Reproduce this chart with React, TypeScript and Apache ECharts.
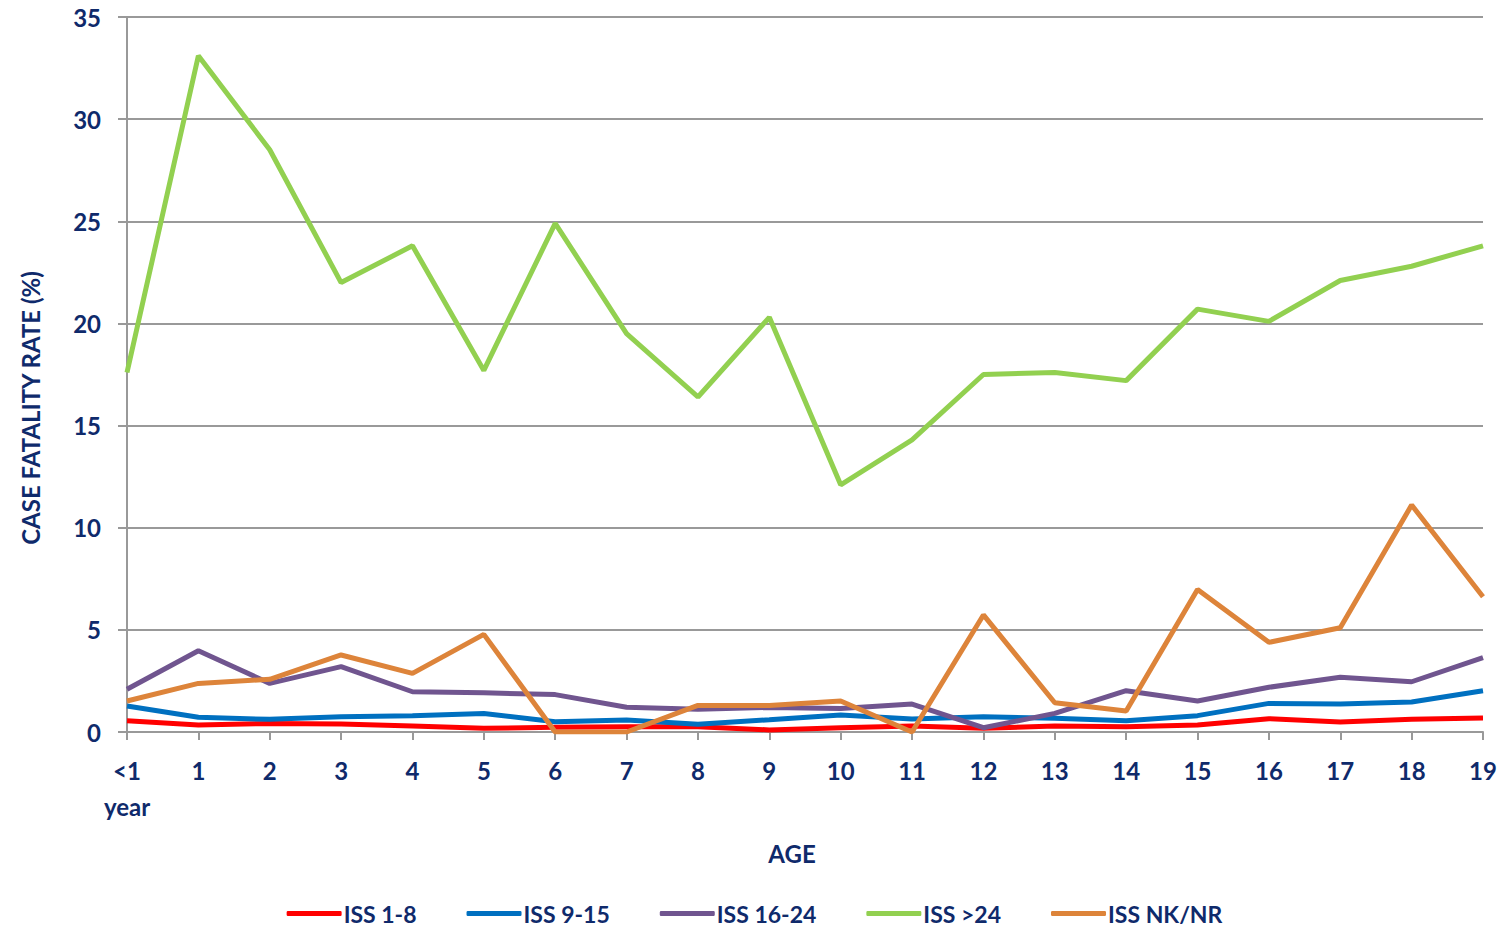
import React, { useEffect, useRef } from "react";
import * as echarts from "echarts";

const categories = ["<1\nyear", "1", "2", "3", "4", "5", "6", "7", "8", "9", "10", "11", "12", "13", "14", "15", "16", "17", "18", "19"];
const iss1to8 = [0.55, 0.34, 0.42, 0.39, 0.29, 0.18, 0.23, 0.26, 0.26, 0.1, 0.21, 0.29, 0.18, 0.29, 0.26, 0.34, 0.65, 0.49, 0.62, 0.69];
const iss9to15 = [1.27, 0.72, 0.62, 0.75, 0.8, 0.91, 0.5, 0.59, 0.38, 0.6, 0.83, 0.64, 0.75, 0.67, 0.55, 0.8, 1.4, 1.37, 1.47, 2.02];
const iss16to24 = [2.09, 3.98, 2.38, 3.2, 1.97, 1.92, 1.83, 1.21, 1.11, 1.2, 1.15, 1.37, 0.21, 0.91, 2.02, 1.52, 2.19, 2.68, 2.46, 3.64];
const issOver24 = [17.6, 33.1, 28.5, 22.0, 23.8, 17.7, 24.9, 19.5, 16.4, 20.3, 12.1, 14.3, 17.5, 17.6, 17.2, 20.7, 20.1, 22.1, 22.8, 23.8];
const issNKNR = [1.52, 2.38, 2.58, 3.77, 2.87, 4.78, 0, 0, 1.3, 1.3, 1.52, 0, 5.73, 1.43, 1.03, 6.98, 4.39, 5.1, 11.11, 6.62];
const seriesNames = ["ISS 1-8", "ISS 9-15", "ISS 16-24", "ISS >24", "ISS NK/NR"];
const colors = ["#ff0000", "#0070c0", "#70558f", "#92d050", "#dd843a"];

const FONT = "Lato, 'Open Sans', sans-serif";
const NAVY = "#0f2a6b";

export default function App() {
  const ref = useRef<HTMLDivElement>(null);
  useEffect(() => {
    if (!ref.current) return;
    const chart = echarts.init(ref.current, undefined, { renderer: "svg" });
    const data = [iss1to8, iss9to15, iss16to24, issOver24, issNKNR];
    chart.setOption({
      animation: false,
      color: colors,
      grid: { left: 127, right: 26, top: 17, bottom: 205 },
      legend: {
        bottom: 7,
        left: "center",
        itemWidth: 55,
        itemHeight: 5,
        itemGap: 50,
        icon: "roundRect",
        textStyle: { color: NAVY, fontFamily: FONT, fontWeight: "bold", fontSize: 23, padding: [0, 0, 0, -3] },
        data: seriesNames,
      },
      xAxis: {
        type: "category",
        data: categories,
        boundaryGap: false,
        axisLine: { lineStyle: { color: "#999999", width: 2 } },
        axisTick: { length: 8, lineStyle: { color: "#999999", width: 2 }, alignWithLabel: true },
        axisLabel: {
          color: NAVY,
          fontFamily: FONT,
          fontWeight: "bold",
          fontSize: 24,
          margin: 20,
          lineHeight: 36,
          interval: 0,
        },
        splitLine: { show: false },
      },
      yAxis: {
        type: "value",
        min: 0,
        max: 35,
        interval: 5,
        axisLine: { show: true, lineStyle: { color: "#999999", width: 2 } },
        axisTick: { show: true, length: 9, lineStyle: { color: "#999999", width: 2 } },
        axisLabel: { color: NAVY, fontFamily: FONT, fontWeight: "bold", fontSize: 24, margin: 26 },
        splitLine: { lineStyle: { color: "#999999", width: 2 } },
      },
      graphic: [
        {
          type: "text",
          x: 30,
          y: 408,
          rotation: Math.PI / 2,
          style: {
            text: "CASE FATALITY RATE (%)",
            fill: NAVY,
            font: `bold 24px ${FONT}`,
            textAlign: "center",
            textVerticalAlign: "middle",
          },
        },
        {
          type: "text",
          x: 792,
          y: 853,
          style: {
            text: "AGE",
            fill: NAVY,
            font: `bold 24px ${FONT}`,
            textAlign: "center",
            textVerticalAlign: "middle",
          },
        },
      ],
      series: seriesNames.map((name, i) => ({
        name,
        type: "line",
        data: data[i],
        symbol: "none",
        lineStyle: { width: 5, color: colors[i] },
        itemStyle: { color: colors[i] },
        z: 2 + i,
      })),
    });
    return () => chart.dispose();
  }, []);
  return <div ref={ref} style={{ width: 1509, height: 937, position: "absolute", left: 0, top: 0, background: "#fff" }} />;
}
